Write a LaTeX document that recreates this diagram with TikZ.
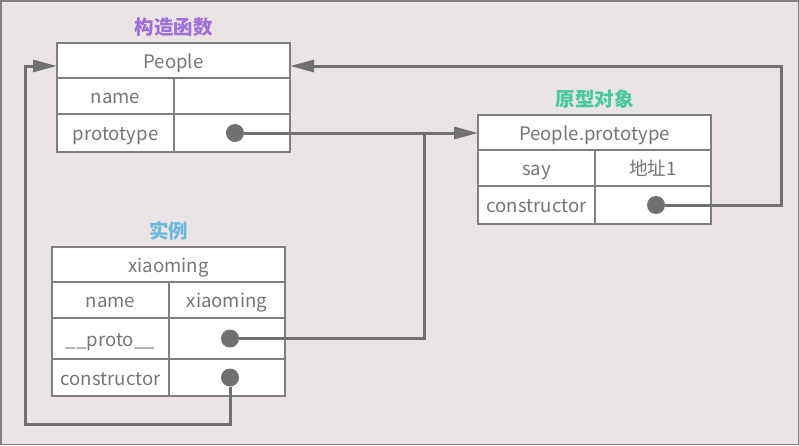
\documentclass[tikz,border=0pt]{standalone}
\usepackage{fontspec}
\setmainfont{Noto Sans CJK SC}
\usetikzlibrary{positioning, arrows.meta}
\definecolor{bgc}{HTML}{EAE4E4}
\definecolor{boxc}{HTML}{808080}
\definecolor{txtc}{HTML}{767676}
\definecolor{linec}{HTML}{707070}
\definecolor{purp}{HTML}{A06FD8}
\definecolor{grn}{HTML}{44C9A0}
\definecolor{blu}{HTML}{6DB9DE}
\begin{document}
\begin{tikzpicture}[x=1pt,y=-1pt,
		cell/.style={rectangle,draw=boxc,line width=1.5pt,fill=white,inner sep=0pt,outer sep=0pt,
			text=txtc,text height=19pt,text depth=4pt,font=\fontsize{18.6}{22}\selectfont},
		hd/.style={cell,minimum width=233pt,minimum height=35pt},
		lc/.style={cell,minimum width=117pt},
		rc/.style={cell,minimum width=116pt},
		dot/.style={circle,fill=linec,inner sep=0pt,minimum size=18pt,outer sep=0pt},
		link/.style={draw=linec,line width=3pt},
		tip/.style={-{Triangle[length=24pt,width=12pt]}},
		ttl/.style={font=\fontsize{19.5}{23}\selectfont\bfseries,inner sep=0pt}
		]
	% background and frame
	\fill[bgc] (0,0) rectangle (799,445);
	\draw[boxc,line width=1.5pt] (0.75,0.75) rectangle (798.25,444.25);

	% constructor People
	\node[hd, anchor=north west](ph) at (57,43){People};
	\node[lc, minimum height=36pt, below right=0pt and 0pt of ph.south west](pn){name};
	\node[rc, minimum height=36pt, right=0pt of pn](pnv){};
	\node[lc, minimum height=38pt, below=0pt of pn](pp){prototype};
	\node[rc, minimum height=38pt, right=0pt of pp](ppv){};
	\node[ttl, text=purp, above=6pt of ph](pt){构造函数};

	% prototype object
	\node[hd, anchor=north west](oh) at (478,115){People.prototype};
	\node[lc, minimum height=36pt, below right=0pt and 0pt of oh.south west](os){say};
	\node[rc, minimum height=36pt, right=0pt of os](osv){地址1};
	\node[lc, minimum height=38pt, below=0pt of os](oc){constructor};
	\node[rc, minimum height=38pt, right=0pt of oc](ocv){};
	\node[ttl, text=grn, above=6pt of oh](ot){原型对象};

	% instance xiaoming
	\node[hd, anchor=north west](xh) at (52,247){xiaoming};
	\node[lc, minimum height=36pt, below right=0pt and 0pt of xh.south west](xn){name};
	\node[rc, minimum height=36pt, right=0pt of xn](xnv){xiaoming};
	\node[lc, minimum height=41pt, below=0pt of xn](xp){\_\_proto\_\_};
	\node[rc, minimum height=41pt, right=0pt of xp](xpv){};
	\node[lc, minimum height=37pt, below=0pt of xp](xc){constructor};
	\node[rc, minimum height=37pt, right=0pt of xc](xcv){};
	\node[ttl, text=blu, above=6pt of xh](xt){实例};

	% pointer dots
	\node[dot, xshift=3pt](d1) at (ppv.center){};
	\node[dot, xshift=3pt](d2) at (ocv.center){};
	\node[dot, xshift=3pt](d3) at (xpv.center){};
	\node[dot, xshift=3pt](d4) at (xcv.center){};

	% bend points
	\coordinate (j1) at (424,0);
	\coordinate (j2) at (781,66);
	\coordinate (j3) at (25,424);

	\draw[link, tip] (d1) -- (d1 -| oh.west);
	\draw[link] (d3) -- (d3 -| j1) -- (j1 |- d1);
	\draw[link, tip] (d2) -| (j2) -- (j2 -| ph.east);
	\draw[link, tip] (d4) |- (j3) |- (ph.west |- j2);
\end{tikzpicture}
\end{document}
